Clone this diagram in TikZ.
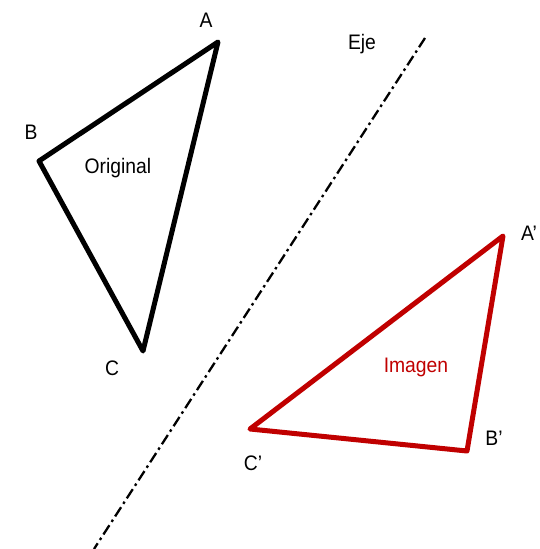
\documentclass[tikz,border=0pt]{standalone}
\usepackage{fontspec}
\setmainfont{Liberation Sans}[FakeStretch=0.92]
\definecolor{imgred}{HTML}{C00000}
\begin{document}
\begin{tikzpicture}[x=1pt,y=-1pt,
  tri/.style={line width=5pt,line join=round},
  lbl/.style={font=\fontsize{21}{23}\selectfont,inner sep=0pt},
  axisline/.style={line width=2.3pt,dash pattern=on 11pt off 4pt on 2.5pt off 4pt}]
\useasboundingbox (0,0) rectangle (540,549);
\coordinate (A) at (218,42);
\coordinate (B) at (39,161);
\coordinate (C) at (143,351);
\coordinate (A2) at (503,236);
\coordinate (B2) at (467,451);
\coordinate (C2) at (250,429);
\coordinate (E1) at (425,38);
\coordinate (E2) at (94,549);
\draw[axisline] (E1) -- (E2);
\draw[tri] (A) -- (B) -- (C) -- cycle;
\draw[tri,imgred] (A2) -- (B2) -- (C2) -- cycle;
\node[lbl] (lA) at (206,20) {A};
\node[lbl] (lB) at (31,132) {B};
\node[lbl] (lC) at (112,368) {C};
\node[lbl] (lE) at (362,44) {Eje};
\node[lbl] (lO) at (118,168) {Original};
\node[lbl,text=imgred] (lI) at (416,367) {Imagen};
\node[lbl] (lA2) at (529,233) {A’};
\node[lbl] (lB2) at (494,438) {B’};
\node[lbl] (lC2) at (253,463) {C’};
\end{tikzpicture}
\end{document}
